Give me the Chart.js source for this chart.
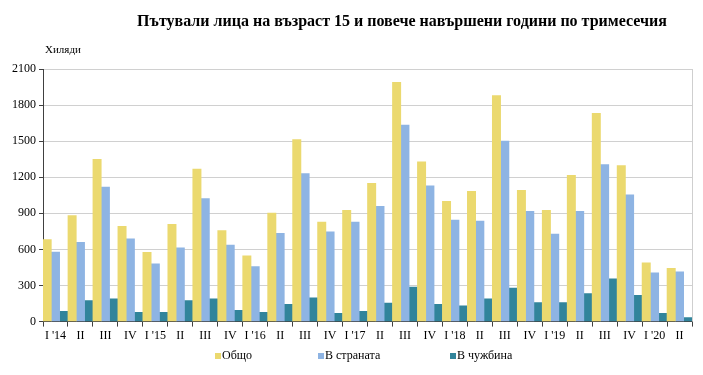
<!DOCTYPE html>
<html>
<head>
<meta charset="utf-8">
<script src="https://cdn.jsdelivr.net/npm/chart.js@4"></script>
<style>
  body { margin: 0; background: #fff; }
  #wrap { width: 703px; height: 375px; }
</style>
</head>
<body>
<div id="wrap"><canvas id="barChart"></canvas></div>
<script>
const quarters = ['I \'14', 'II', 'III', 'IV', 'I \'15', 'II', 'III', 'IV', 'I \'16', 'II', 'III', 'IV',
  'I \'17', 'II', 'III', 'IV', 'I \'18', 'II', 'III', 'IV', 'I \'19', 'II', 'III', 'IV', 'I \'20', 'II'];
const total = [681, 881, 1350, 792, 575, 808, 1267, 756, 547, 903, 1514, 828,
  925, 1150, 1989, 1328, 1000, 1083, 1878, 1092, 925, 1217, 1731, 1297, 489, 442];
const domestic = [578, 658, 1119, 689, 481, 614, 1022, 636, 458, 733, 1231, 747,
  828, 958, 1633, 1128, 844, 836, 1500, 917, 728, 917, 1306, 1053, 406, 414];
const abroad = [86, 175, 189, 78, 78, 175, 189, 94, 78, 144, 197, 69,
  86, 153, 286, 144, 131, 189, 278, 158, 158, 233, 356, 219, 69, 33];
const yTicks = [0, 300, 600, 900, 1200, 1500, 1800, 2100];

const serif = '"Liberation Serif", "Times New Roman", serif';

// title, units, frame and legend drawn by hand
const extras = {
  id: 'extras',
  afterDraw(chart) {
    const c = chart.ctx;
    const a = chart.chartArea;
    c.save();
    c.strokeStyle = '#cfcfcf';
    c.lineWidth = 1;
    c.beginPath();
    c.moveTo(a.right + 0.5, a.top);
    c.lineTo(a.right + 0.5, a.bottom);
    c.stroke();

    c.fillStyle = '#000';
    c.textBaseline = 'middle';
    c.font = 'bold 16px ' + serif;
    c.textAlign = 'center';
    c.fillText('Пътували лица на възраст 15 и повече навършени години по тримесечия', 402, 22);
    c.font = '11px ' + serif;
    c.textAlign = 'left';
    c.fillText('Хиляди', 45, 50);

    c.font = '12px ' + serif;
    const xs = [215, 318, 450];
    chart.data.datasets.forEach((ds, i) => {
      c.fillStyle = ds.backgroundColor;
      c.fillRect(xs[i], 353, 6, 6);
      c.fillStyle = '#000';
      c.fillText(ds.label, xs[i] + 7, 356);
    });
    c.restore();
  }
};

new Chart(document.getElementById('barChart'), {
  type: 'bar',
  data: {
    labels: quarters,
    datasets: [
      { label: 'Общо', data: total, backgroundColor: '#EBD96F' },
      { label: 'В страната', data: domestic, backgroundColor: '#8EB4E3' },
      { label: 'В чужбина', data: abroad, backgroundColor: '#31849B' }
    ]
  },
  options: {
    responsive: true,
    maintainAspectRatio: false,
    animation: false,
    datasets: { bar: { categoryPercentage: 1, barPercentage: 1 } },
    layout: { padding: { top: 69, left: 7, right: 11, bottom: 30 } },
    plugins: { legend: { display: false }, tooltip: { enabled: false } },
    scales: {
      x: {
        grid: { offset: true, drawOnChartArea: false, tickLength: 5, tickColor: '#404040' },
        border: { color: '#404040' },
        ticks: { color: '#000', font: { family: serif, size: 12 }, padding: 2, maxRotation: 0, autoSkip: false }
      },
      y: {
        min: 0,
        max: 2100,
        afterBuildTicks: s => { s.ticks = yTicks.map(v => ({ value: v })); },
        afterFit: s => { s.width = 36; },
        grid: { color: '#d0d0d0', tickLength: 4, tickColor: '#404040' },
        border: { color: '#404040' },
        ticks: { color: '#000', font: { family: serif, size: 12 }, padding: 3, callback: v => String(v) }
      }
    }
  },
  plugins: [extras]
});
</script>
</body>
</html>
